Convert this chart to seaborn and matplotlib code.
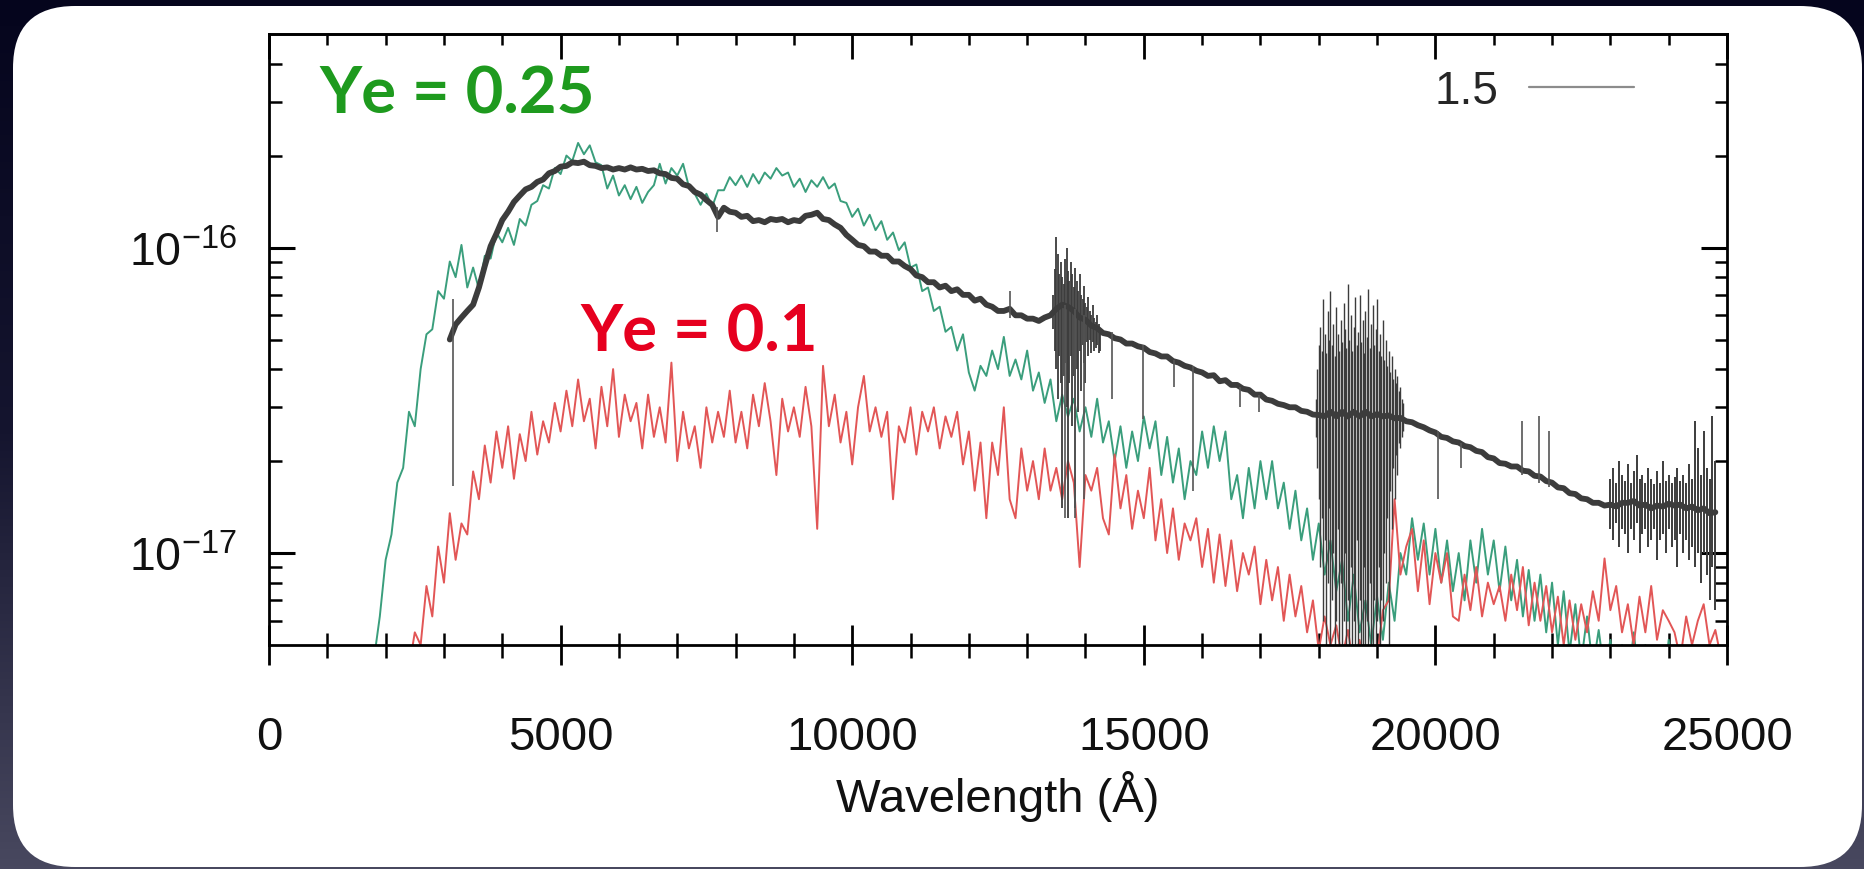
import numpy as np
import matplotlib
matplotlib.use("Agg")
import matplotlib.pyplot as plt
import seaborn as sns
from matplotlib.patches import FancyBboxPatch
from matplotlib.lines import Line2D
from matplotlib.colors import LinearSegmentedColormap
from matplotlib.ticker import NullFormatter, LogFormatterMathtext, MultipleLocator, FixedLocator

# ---------------- data (flux in units of 1e-17) ----------------
UNIT = 1e-17

# Ye = 0.25 spectrum (green)
green_wl = np.arange(1800, 25000, 100)
green_flux = [
    0.45, 0.62, 0.95, 1.15, 1.7, 1.9, 2.9, 2.6, 4.0, 5.2,
    5.4, 7.2, 6.8, 9.0, 8.0, 10.2, 7.4, 8.6, 7.3, 9.4,
    9.2, 11.2, 10.4, 11.6, 10.2, 12.4, 11.8, 13.8, 14.2, 16.0,
    15.6, 18.2, 17.4, 20.0, 19.2, 22.0, 20.2, 21.6, 19.0, 18.6,
    15.6, 17.2, 14.8, 16.0, 14.4, 15.8, 14.0, 15.2, 16.0, 18.8,
    16.2, 18.2, 17.2, 18.8, 15.8, 15.0, 13.8, 15.0, 13.6, 15.4,
    15.4, 17.0, 16.0, 17.2, 15.8, 17.4, 16.2, 17.6, 16.8, 18.2,
    17.2, 17.6, 15.8, 16.8, 15.2, 16.6, 15.8, 17.0, 15.6, 16.2,
    14.2, 14.0, 12.6, 13.4, 11.8, 12.8, 11.4, 12.2, 10.6, 11.2,
    9.8, 10.4, 8.6, 8.8, 7.2, 7.4, 6.2, 6.4, 5.3, 5.5,
    4.6, 5.2, 3.9, 3.4, 4.1, 3.8, 4.6, 4.0, 5.1, 3.8,
    4.3, 3.7, 4.6, 3.4, 3.9, 3.1, 3.7, 2.7, 3.3, 2.8,
    3.2, 2.5, 3.0, 2.4, 3.2, 2.3, 2.7, 2.0, 2.6, 1.9,
    2.5, 2.0, 2.8, 2.2, 2.7, 1.8, 2.4, 1.7, 2.2, 1.5,
    2.0, 1.8, 2.5, 1.9, 2.6, 2.0, 2.5, 1.5, 1.8, 1.3,
    1.9, 1.4, 2.0, 1.5, 2.0, 1.4, 1.7, 1.2, 1.6, 1.1,
    1.4, 0.95, 1.25, 0.85, 1.1, 0.75, 0.95, 0.6, 0.85, 0.55,
    0.7, 0.5, 0.72, 0.52, 0.8, 0.6, 1.0, 0.85, 1.3, 0.95,
    1.25, 0.85, 1.2, 0.8, 1.1, 0.75, 1.0, 0.7, 1.1, 0.8,
    1.2, 0.85, 1.1, 0.75, 1.05, 0.7, 0.95, 0.62, 0.88, 0.6,
    0.85, 0.55, 0.8, 0.5, 0.75, 0.47, 0.68, 0.44, 0.62, 0.42,
    0.56, 0.4, 0.52, 0.38, 0.5, 0.36, 0.55, 0.38, 0.5, 0.35,
    0.48, 0.34, 0.52, 0.36, 0.46, 0.33, 0.45, 0.32, 0.42, 0.3,
    0.4, 0.3,
]

# Ye = 0.1 spectrum (red)
red_wl = np.arange(2400, 25000, 100)
red_flux = [
    0.42, 0.55, 0.5, 0.78, 0.62, 1.05, 0.8, 1.35, 0.95, 1.25,
    1.15, 1.85, 1.5, 2.25, 1.7, 2.5, 1.9, 2.6, 1.75, 2.45,
    2.0, 2.9, 2.1, 2.7, 2.3, 3.1, 2.5, 3.4, 2.6, 3.7,
    2.7, 3.2, 2.2, 3.5, 2.6, 4.0, 2.4, 3.3, 2.7, 3.1,
    2.2, 3.3, 2.4, 3.0, 2.3, 4.2, 2.0, 2.9, 2.2, 2.6,
    1.9, 3.0, 2.3, 2.9, 2.4, 3.4, 2.3, 2.9, 2.2, 3.3,
    2.6, 3.6, 2.7, 1.8, 3.2, 2.5, 3.0, 2.4, 3.5, 2.6,
    1.2, 4.1, 2.6, 3.3, 2.3, 2.9, 1.95, 3.0, 3.8, 2.5,
    3.0, 2.4, 2.9, 1.5, 2.6, 2.3, 3.0, 2.1, 2.9, 2.5,
    3.0, 2.2, 2.8, 2.4, 2.9, 1.95, 2.5, 1.6, 2.3, 1.3,
    2.3, 1.8, 3.0, 1.5, 1.3, 2.2, 1.6, 2.0, 1.5, 2.2,
    1.6, 1.9, 1.5, 2.0, 1.7, 0.9, 1.8, 1.6, 1.9, 1.3,
    1.15, 2.1, 1.4, 1.8, 1.2, 1.6, 1.3, 1.9, 1.1, 1.5,
    1.0, 1.4, 0.95, 1.25, 1.1, 1.3, 0.9, 1.2, 0.8, 1.15,
    0.78, 1.1, 0.75, 1.0, 0.85, 1.05, 0.68, 0.95, 0.7, 0.9,
    0.6, 0.85, 0.62, 0.78, 0.55, 0.7, 0.48, 0.62, 0.5, 0.58,
    0.45, 0.56, 0.42, 0.52, 0.4, 0.5, 0.45, 0.65, 0.7, 1.5,
    0.85, 1.05, 1.2, 0.75, 1.1, 0.68, 1.0, 0.8, 1.0, 0.62,
    0.6, 0.85, 0.65, 0.9, 0.62, 0.8, 0.68, 0.78, 0.6, 0.85,
    0.65, 0.9, 0.58, 0.8, 0.6, 0.78, 0.55, 0.72, 0.5, 0.7,
    0.52, 0.68, 0.55, 0.75, 0.6, 0.96, 0.65, 0.78, 0.55, 0.68,
    0.5, 0.72, 0.55, 0.78, 0.52, 0.65, 0.6, 0.55, 0.45, 0.62,
    0.5, 0.6, 0.68, 0.5, 0.56, 0.45,
]

# "1.5" spectrum (dark grey) - continuum
black_wl = np.arange(3100, 24900, 100)
black_flux = [
    5.0, 5.6, 5.9, 6.2, 6.5, 7.4, 8.7, 10.1, 11.1, 12.3,
    13.1, 14.1, 14.8, 15.5, 15.8, 16.4, 16.7, 17.5, 17.8, 18.4,
    18.5, 19.0, 18.9, 19.1, 18.6, 18.5, 18.2, 18.3, 18.0, 18.2,
    18.0, 18.3, 18.0, 18.1, 17.8, 17.9, 17.5, 17.4, 16.9, 16.8,
    16.1, 15.9, 15.2, 14.9, 14.3, 13.8, 12.6, 13.5, 13.1, 13.0,
    12.6, 12.7, 12.2, 12.3, 12.1, 12.4, 12.3, 12.4, 12.1, 12.3,
    12.2, 12.7, 12.8, 13.0, 12.4, 12.3, 11.9, 11.6, 11.0, 10.6,
    10.2, 10.1, 9.7, 9.7, 9.4, 9.4, 9.0, 9.0, 8.7, 8.5,
    8.1, 8.0, 7.7, 7.7, 7.4, 7.5, 7.2, 7.3, 7.0, 7.0,
    6.7, 6.8, 6.5, 6.4, 6.2, 6.2, 6.3, 6.0, 6.0, 5.85,
    5.85, 5.75, 5.9, 6.0, 6.3, 6.5, 6.4, 6.2, 5.9, 5.8,
    5.55, 5.45, 5.25, 5.2, 5.05, 5.0, 4.85, 4.85, 4.75, 4.7,
    4.55, 4.5, 4.4, 4.4, 4.25, 4.2, 4.1, 4.05, 3.95, 3.9,
    3.8, 3.82, 3.65, 3.68, 3.55, 3.55, 3.45, 3.42, 3.3, 3.3,
    3.18, 3.15, 3.08, 3.05, 3.0, 3.0, 2.92, 2.9, 2.84, 2.83,
    2.8, 2.9, 2.8, 2.9, 2.8, 2.9, 2.8, 2.9, 2.8, 2.85,
    2.8, 2.82, 2.76, 2.77, 2.7, 2.68, 2.62, 2.58, 2.52, 2.48,
    2.4, 2.38, 2.32, 2.3, 2.24, 2.22, 2.16, 2.14, 2.06, 2.04,
    1.97, 1.96, 1.92, 1.92, 1.86, 1.85, 1.79, 1.78, 1.72, 1.7,
    1.64, 1.63, 1.57, 1.56, 1.51, 1.5, 1.46, 1.46, 1.43, 1.44,
    1.42, 1.46, 1.46, 1.48, 1.43, 1.44, 1.4, 1.43, 1.42, 1.45,
    1.43, 1.44, 1.4, 1.42, 1.38, 1.4, 1.35, 1.36,
]

# noisy line-forest bands of the "1.5" spectrum (low / high per sample)
band1_wl = np.arange(13450, 14275, 25)
band1_hi = [7.0, 8.5, 10.8, 9.5, 8.2, 9.0, 8.0, 7.6, 9.2, 10.0,
            8.4, 7.8, 9.0, 8.2, 7.4, 8.6, 7.8, 7.2, 8.2, 7.0,
            6.8, 7.5, 6.6, 6.4, 6.9, 6.2, 6.0, 6.5, 5.9, 5.7,
            6.0, 5.6, 5.4]
band1_lo = [5.4, 4.6, 4.0, 3.2, 4.4, 3.6, 1.4, 3.8, 4.2, 3.0,
            1.3, 3.6, 4.4, 2.6, 3.8, 1.4, 4.0, 2.9, 4.6, 3.4,
            4.8, 4.2, 3.6, 4.9, 4.4, 5.0, 4.5, 4.9, 4.6, 4.7,
            4.8, 4.5, 4.6]

band2_wl = np.arange(17950, 19475, 25)
band2_hi = [3.2, 4.0, 4.8, 5.5, 4.6, 6.8, 5.2, 4.5, 6.2, 5.0,
            7.2, 4.8, 5.6, 4.4, 6.4, 5.2, 4.6, 5.8, 4.9, 6.6,
            5.4, 4.7, 7.6, 5.0, 6.0, 4.6, 5.5, 6.9, 4.8, 5.3,
            7.0, 4.9, 5.8, 4.5, 6.2, 5.1, 7.3, 4.7, 5.6, 6.5,
            4.8, 5.4, 6.8, 4.6, 5.2, 4.4, 5.8, 4.3, 5.0, 4.1,
            4.6, 3.9, 4.4, 3.7, 4.0, 3.6, 3.8, 3.4, 3.5, 3.2,
            3.1]
band2_lo = [2.4, 1.9, 1.5, 0.9, 1.3, 0.6, 1.1, 0.5, 0.8, 1.4,
            0.5, 0.7, 1.0, 0.5, 0.6, 1.2, 0.5, 0.8, 0.5, 0.6,
            1.0, 0.5, 0.7, 0.5, 0.9, 0.5, 0.6, 0.5, 1.1, 0.5,
            0.7, 0.5, 0.5, 0.9, 0.5, 0.6, 0.5, 0.8, 0.5, 0.5,
            0.7, 0.5, 0.6, 0.9, 0.5, 0.7, 0.6, 1.0, 0.8, 1.3,
            0.5, 1.6, 1.2, 1.9, 1.5, 2.1, 1.8, 2.3, 2.2, 2.4,
            2.5]

band3_wl = np.arange(23000, 24850, 50)
band3_hi = [1.75, 1.9, 1.7, 2.0, 1.8, 1.72, 1.95, 1.7, 1.85, 2.1,
            1.75, 1.8, 1.7, 1.9, 1.75, 1.68, 1.85, 1.7, 2.0, 1.72,
            1.8, 1.7, 1.78, 1.9, 1.72, 1.8, 1.7, 1.95, 1.75, 2.7,
            2.2, 1.8, 2.5, 1.9, 1.75, 2.8, 2.0]
band3_lo = [1.2, 1.1, 1.25, 1.05, 1.2, 1.15, 1.0, 1.2, 1.1, 1.25,
            1.0, 1.15, 1.2, 1.05, 1.1, 1.2, 0.95, 1.1, 1.15, 1.0,
            1.2, 1.05, 1.1, 0.9, 1.15, 1.0, 1.1, 0.95, 1.05, 0.9,
            1.0, 0.8, 1.0, 0.85, 0.7, 0.9, 0.65]

# isolated narrow lines of the "1.5" spectrum
spike_wl = [3150, 7680, 12700, 13650, 13820, 13980, 14460, 14990, 15520,
            15840, 16650, 16970, 20040, 20440, 21490, 21780, 21940]
spike_lo = [1.66, 11.2, 5.9, 1.3, 1.3, 1.5, 3.2, 2.75, 3.5,
            1.6, 3.0, 2.9, 1.5, 1.9, 1.8, 1.7, 1.65]
spike_hi = [6.8, 13.6, 7.2, 6.5, 6.3, 6.0, 5.3, 4.8, 4.3,
            4.1, 3.5, 3.3, 2.5, 2.3, 2.7, 2.8, 2.5]

x_major_ticks = [0, 5000, 10000, 15000, 20000, 25000]
y_major_ticks = [1e-17, 1e-16]
y_minor_ticks = [6e-18, 7e-18, 8e-18, 9e-18,
                 2e-17, 3e-17, 4e-17, 5e-17, 6e-17, 7e-17, 8e-17, 9e-17,
                 2e-16, 3e-16, 4e-16]
legend_label = "1.5"
xlabel_text = "Wavelength (Å)"
annot_green = "Ye = 0.25"
annot_red = "Ye = 0.1"

# ---------------- style ----------------
sns.set_theme(style="white")
plt.rcParams["font.family"] = ["Liberation Sans", "DejaVu Sans"]
plt.rcParams["mathtext.fontset"] = "custom"
plt.rcParams["mathtext.rm"] = "Liberation Sans"
plt.rcParams["mathtext.it"] = "Liberation Sans:italic"
plt.rcParams["mathtext.bf"] = "Liberation Sans:bold"

W, H = 1864, 870
fig = plt.figure(figsize=(W / 100, H / 100), dpi=100)

# slide background + white rounded panel
bg = fig.add_axes([0, 0, 1, 1], zorder=-10)
grad = np.linspace(0, 1, 256)[:, None]
cmap = LinearSegmentedColormap.from_list("bg", ["#05051d", "#15152f", "#48485f"])
bg.imshow(grad, aspect="auto", cmap=cmap, extent=[0, W, H, 0])
bg.set_xlim(0, W)
bg.set_ylim(H, 0)
bg.set_xticks([])
bg.set_yticks([])
bg.axis("off")
bg.add_patch(FancyBboxPatch((13, 7), W - 15, H - 9,
                            boxstyle="round,pad=0,rounding_size=62",
                            fc="white", ec="none"))

# main axes
L, R, T, B = 269, 1727, 35, 646
ax = fig.add_axes([L / W, 1 - B / H, (R - L) / W, (B - T) / H])
ax.set_facecolor("none")

sns.lineplot(x=green_wl, y=np.array(green_flux) * UNIT, ax=ax, color="#3a9e7c",
             linewidth=1.4, estimator=None, sort=False, legend=False)
sns.lineplot(x=red_wl, y=np.array(red_flux) * UNIT, ax=ax, color="#e25656",
             linewidth=1.4, estimator=None, sort=False, legend=False)
sns.lineplot(x=black_wl, y=np.array(black_flux) * UNIT, ax=ax, color="#3c3c3c",
             linewidth=4.2, estimator=None, sort=False, legend=False)
ax.vlines(band1_wl, np.array(band1_lo) * UNIT, np.array(band1_hi) * UNIT,
          color="#3c3c3c", linewidth=1.3)
ax.vlines(band2_wl, np.array(band2_lo) * UNIT, np.array(band2_hi) * UNIT,
          color="#3c3c3c", linewidth=1.0)
ax.vlines(band3_wl, np.array(band3_lo) * UNIT, np.array(band3_hi) * UNIT,
          color="#3c3c3c", linewidth=1.4)
ax.vlines(spike_wl, np.array(spike_lo) * UNIT, np.array(spike_hi) * UNIT,
          color="#555555", linewidth=1.2)

ax.set_yscale("log")
ax.set_ylim(5e-18, 5e-16)
ax.set_xlim(0, 25000)
ax.set_xlabel("")
ax.set_ylabel("")

# y ticks
ax.yaxis.set_major_locator(FixedLocator(y_major_ticks))
ax.yaxis.set_minor_locator(FixedLocator(y_minor_ticks))
ax.yaxis.set_major_formatter(LogFormatterMathtext())
ax.yaxis.set_minor_formatter(NullFormatter())
ax.tick_params(axis="y", which="both", direction="in", left=True, right=True,
               color="black", labelcolor="#111111")
ax.tick_params(axis="y", which="major", length=19, width=2.2, pad=23, labelsize=33.5)
ax.tick_params(axis="y", which="minor", length=9, width=1.8)

# x ticks (bottom crosses the axis, top inward)
ax.xaxis.set_major_locator(FixedLocator(x_major_ticks))
ax.xaxis.set_minor_locator(MultipleLocator(1000))
ax.tick_params(axis="x", which="both", direction="inout", bottom=True, top=False,
               color="black", labelcolor="#111111")
ax.tick_params(axis="x", which="major", length=29, width=2.0, pad=36, labelsize=34)
ax.tick_params(axis="x", which="minor", length=18, width=1.8)

top = ax.secondary_xaxis("top")
top.xaxis.set_major_locator(FixedLocator(x_major_ticks))
top.xaxis.set_minor_locator(MultipleLocator(1000))
top.tick_params(which="both", direction="in", labeltop=False, color="black")
top.tick_params(which="major", length=18, width=2.0)
top.tick_params(which="minor", length=8, width=1.8)
top.spines["top"].set_linewidth(2.0)

for s in ax.spines.values():
    s.set_color("black")
    s.set_linewidth(2.0)
    s.set_visible(True)

# legend "1.5 ———"
ax.legend(handles=[Line2D([], [], color="#8c8c8c", linewidth=1.6)], labels=[legend_label],
          loc="upper right", bbox_to_anchor=((1634 - L) / (R - L), (B - 70) / (B - T)),
          markerfirst=False, frameon=False, fontsize=33, handlelength=2.3,
          handletextpad=0.65, borderpad=0, borderaxespad=0)

# axis label
fig.text((L + R) / 2 / W, 1 - 812 / H, xlabel_text, ha="center", va="baseline",
         fontsize=34, color="#111111")

# annotations
fig.text(319 / W, 1 - 113 / H, annot_green, color="#1e9a1e", fontsize=47,
         fontweight="bold", family=["Lato", "DejaVu Sans"], va="baseline", ha="left")
fig.text(580 / W, 1 - 352 / H, annot_red, color="#e6001f", fontsize=47,
         fontweight="bold", family=["Lato", "DejaVu Sans"], va="baseline", ha="left")

fig.savefig("out.png", dpi=100)
